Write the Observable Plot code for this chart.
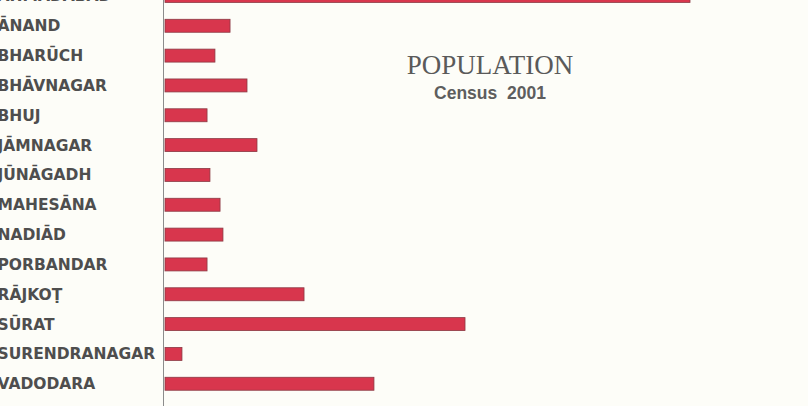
<!DOCTYPE html>
<html>
<head>
<meta charset="utf-8">
<script src="https://cdn.jsdelivr.net/npm/d3@7"></script>
<script src="https://cdn.jsdelivr.net/npm/@observablehq/plot@0.6"></script>
<style>
  html, body { margin: 0; padding: 0; background: #fdfdf8; }
  #wrap { position: relative; width: 808px; height: 406px; overflow: hidden; }
  #title { position: absolute; left: 390px; width: 200px; top: 52px; text-align: center;
    font-family: "Liberation Serif", serif; font-size: 27px; line-height: 27px; color: #5a5a5a; }
  #subtitle { position: absolute; left: 390px; width: 200px; top: 85px; text-align: center;
    font-family: "Liberation Sans", sans-serif; font-weight: bold; font-size: 17.5px; line-height: 17.5px; color: #5e5e5e; white-space: pre; }
</style>
</head>
<body>
<div id="wrap">
  <div id="chart"></div>
  <div id="title">POPULATION</div>
  <div id="subtitle">Census  2001</div>
</div>
<script>
const cities = ["AHMADĀBĀD", "ĀNAND", "BHARŪCH", "BHĀVNAGAR", "BHUJ", "JĀMNAGAR", "JŪNĀGADH",
  "MAHESĀNA", "NADIĀD", "PORBANDAR", "RĀJKOṬ", "SŪRAT", "SURENDRANAGAR", "VADODARA"];
// population in thousands
const population = [4520, 560, 430, 706, 362, 792, 387, 474, 499, 362, 1197, 2583, 146, 1799];

const data = cities.map((c, i) => ({city: c, pop: population[i]}));

const chart = Plot.plot({
  width: 808,
  height: 406,
  marginLeft: 165,
  marginRight: 118,
  marginTop: 0,
  marginBottom: 0,
  style: {background: "#fdfdf8"},
  x: {domain: [0, 4520], axis: null},
  y: {domain: cities, range: [-27.4, 407.1], padding: 0.565, round: false, axis: null},
  marks: [
    Plot.ruleX([0], {dx: -2, stroke: "#8c8c8c", strokeWidth: 1}),
    Plot.barX(data, {x: "pop", y: "city", fill: "#d8364d", stroke: "#8b3a44", strokeWidth: 0.8}),
    Plot.text(data, {y: "city", text: "city", frameAnchor: "left", textAnchor: "start", dx: -168,
      fontFamily: "DejaVu Sans", fontWeight: "bold", fontSize: 15.5, fill: "#4e4e4e"})
  ]
});
document.getElementById("chart").appendChild(chart);
</script>
</body>
</html>
